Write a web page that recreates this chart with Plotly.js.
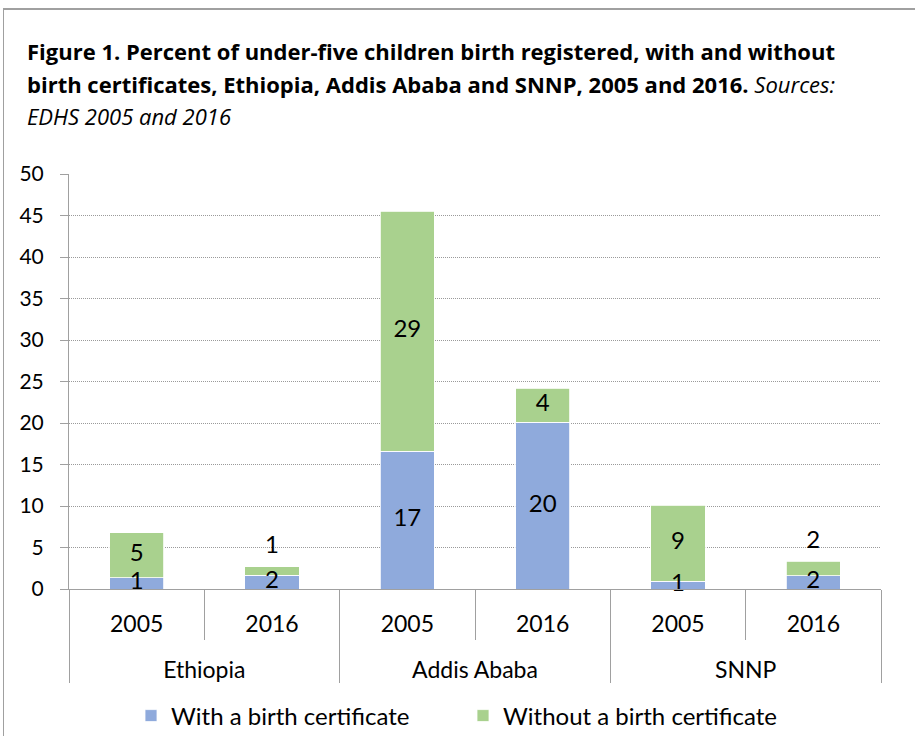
<!DOCTYPE html>
<html>
<head>
<meta charset="utf-8">
<script src="https://cdn.plot.ly/plotly-3.0.1.min.js"></script>
<style>
  body { margin: 0; padding: 0; background: #fff; }
  #wrap { position: relative; width: 915px; height: 736px; }
  #chart { width: 915px; height: 736px; }
  #frame { position: absolute; left: 3px; top: 8px; width: 920px; height: 740px;
           border-top: 2px solid #a0a0a0; border-left: 1px solid #a0a0a0; pointer-events: none; }
</style>
</head>
<body>
<div id="wrap">
  <div id="chart"></div>
  <div id="frame"></div>
</div>
<script>
// ---- data ----
const regions = ["Ethiopia", "Ethiopia", "Addis Ababa", "Addis Ababa", "SNNP", "SNNP"];
const years = ["2005", "2016", "2005", "2016", "2005", "2016"];
const withCert = [1.36, 1.65, 16.6, 20.1, 0.96, 1.6];
const withoutCert = [5.4, 1.04, 28.9, 4.1, 9.15, 1.77];
const seriesNames = ["With a birth certificate", "Without a birth certificate"];
const yTicks = [0, 5, 10, 15, 20, 25, 30, 35, 40, 45, 50];
const titleLines = [
  "<b>Figure 1. Percent of under-five children birth registered, with and without</b>",
  "<b>birth certificates, Ethiopia, Addis Ababa and SNNP, 2005 and 2016.</b> <i>Sources:</i>",
  "<i>EDHS 2005 and 2016</i>"
];

const FONT = "Lato, 'Open Sans', sans-serif";
const TFONT = "'Open Sans', Lato, sans-serif";
const blue = "#8faadc";
const green = "#a9d18e";
// group labels get a leading blank line so they sit lower, as in the reference
const x = [regions.map(r => "<br>" + r), years];

const blueBar = {
  type: "bar", name: seriesNames[0], x: x, y: withCert,
  marker: { color: blue, line: { color: "#ffffff", width: 0.8 } },
  hoverinfo: "skip"
};
const greenBar = {
  type: "bar", name: seriesNames[1], x: x, y: withoutCert,
  marker: { color: green, line: { color: "#ffffff", width: 0.8 } },
  hoverinfo: "skip"
};

// labels
const blueLab = {
  type: "scatter", mode: "text", x: x, showlegend: false, hoverinfo: "skip",
  y: withCert.map(v => v / 2),
  text: withCert.map(v => String(Math.round(v))),
  textposition: "middle center",
  textfont: { family: FONT, size: 24, color: "#000" },
  cliponaxis: false
};
const above = withoutCert.map(v => v < 2);
const greenLab = {
  type: "scatter", mode: "markers+text", x: x, showlegend: false, hoverinfo: "skip",
  y: withoutCert.map((v, i) => above[i] ? withCert[i] + v : withCert[i] + v / 2),
  text: withoutCert.map(v => String(Math.round(v))),
  textposition: above.map(a => a ? "top center" : "middle center"),
  marker: { size: 10, opacity: 0 },
  textfont: { family: FONT, size: 24, color: "#000" },
  cliponaxis: false
};

const pxToPaperY = py => (589 - py) / 415;
const pxToPaperX = px => (px - 69) / 812;
const annotations = titleLines.map((t, i) => ({
  text: t, showarrow: false,
  xref: "paper", yref: "paper",
  x: pxToPaperX(25), xanchor: "left",
  y: pxToPaperY([51, 84, 116][i]), yanchor: "middle",
  font: { family: TFONT, size: 22, color: "#000" }
}));

const layout = {
  width: 915, height: 736,
  margin: { l: 69, r: 34, t: 174, b: 147 },
  paper_bgcolor: "rgba(0,0,0,0)",
  plot_bgcolor: "#fff",
  font: { family: FONT, size: 21, color: "#000" },
  barmode: "stack",
  bargap: 0.6,
  annotations: annotations,
  xaxis: {
    type: "multicategory",
    showline: true, linecolor: "#a0a0a0", linewidth: 1,
    showdividers: true, dividercolor: "#a0a0a0", dividerwidth: 1,
    tickson: "boundaries", ticks: "outside", ticklen: 50, tickcolor: "#a0a0a0",
    tickfont: { family: FONT, size: 23, color: "#000" },
    ticklabelstandoff: 14,
    showgrid: false, zeroline: false
  },
  yaxis: {
    range: [0, 50], tickvals: yTicks, ticktext: yTicks.map(String),
    showline: true, linecolor: "#a0a0a0", linewidth: 1,
    ticks: "outside", ticklen: 8, tickcolor: "#a0a0a0",
    showgrid: true, gridcolor: "#9a9a9a", gridwidth: 1, griddash: "1px,1px",
    zeroline: false,
    tickfont: { family: FONT, size: 21, color: "#000" },
    ticklabelstandoff: 12
  },
  legend: {
    orientation: "h", x: 131 / 915, xanchor: "left", xref: "container",
    y: 1 - 716 / 736, yanchor: "middle", yref: "container",
    font: { family: FONT, size: 24, color: "#000" },
    entrywidth: 287, entrywidthmode: "pixels", traceorder: "normal"
  },
  showlegend: true
};

Plotly.newPlot("chart", [blueBar, greenBar, blueLab, greenLab], layout, { displayModeBar: false, staticPlot: true });
</script>
</body>
</html>
